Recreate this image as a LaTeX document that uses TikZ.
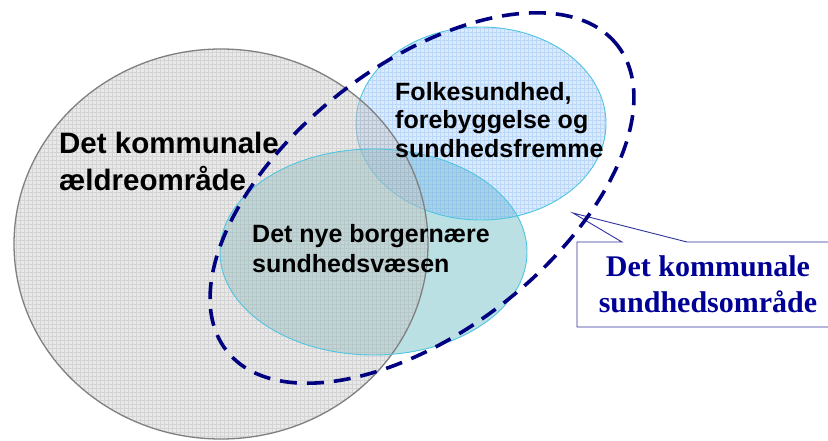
\documentclass[tikz,border=0pt]{standalone}
\usepackage{fontspec}
\setmainfont{Liberation Sans}
\newfontfamily\timesfont{Liberation Serif}
\definecolor{greenfill}{RGB}{186,224,227}
\definecolor{cyanline}{RGB}{80,196,225}
\definecolor{bluebase}{RGB}{116,176,244}
\definecolor{bluegrid}{RGB}{90,160,240}
\definecolor{greybase}{RGB}{200,200,200}
\definecolor{greygrid}{RGB}{165,165,165}
\definecolor{greyline}{RGB}{128,128,128}
\definecolor{navydash}{RGB}{0,0,128}
\definecolor{navytext}{RGB}{0,0,150}
\definecolor{navybox}{RGB}{50,50,160}
\tikzset{
  labeltext/.style={inner sep=0pt, anchor=base west, align=left, font=\bfseries},
  dashring/.style={draw=navydash, line width=3.6pt, dash pattern=on 17pt off 10pt},
  calloutbox/.style={fill=white, draw=navybox, line width=0.9pt, line join=miter},
}
\begin{document}
\begin{tikzpicture}[x=1pt,y=-1pt]
\useasboundingbox (0,0) rectangle (828,440);
\clip (0,0) rectangle (828,440);
\fill[white] (0,0) rectangle (828,440);

% centres of the three areas
\coordinate (gc) at (221,244);
\coordinate (nc) at (373.5,252);
\coordinate (fc) at (481,123.5);
\coordinate (dc) at (422,198);

% green: det nye borgernaere sundhedsvaesen
\fill[greenfill] (nc) ellipse [x radius=153.5pt, y radius=103pt];

% blue: folkesundhed
\begin{scope}
  \clip (fc) ellipse [x radius=125pt, y radius=96.5pt];
  \fill[bluebase, fill opacity=0.25] (fc) ellipse [x radius=125pt, y radius=96.5pt];
  \draw[bluegrid, draw opacity=0.25, line width=0.5pt, step=4pt] (340,240) grid (620,20);
\end{scope}
\draw[cyanline, line width=0.9pt] (fc) ellipse [x radius=125pt, y radius=96.5pt];

% grey: det kommunale aeldreomraade
\begin{scope}
  \clip (gc) ellipse [x radius=207pt, y radius=195pt];
  \fill[greybase, fill opacity=0.4] (gc) ellipse [x radius=207pt, y radius=195pt];
  \draw[greygrid, draw opacity=0.3, line width=0.5pt, step=4pt] (0,440) grid (440,40);
\end{scope}
\draw[greyline, line width=1.3pt] (gc) ellipse [x radius=207pt, y radius=195pt];
\draw[cyanline, line width=0.9pt] (nc) ellipse [x radius=153.5pt, y radius=103pt];

% texts (base anchor = baseline of the last line)
\node[labeltext, font=\bfseries\fontsize{29.5}{37}\selectfont] (aeldre) at (59,190) {Det kommunale\\ældreområde};
\node[labeltext, font=\bfseries\fontsize{25}{28.5}\selectfont] (folke) at (395,157) {Folkesundhed,\\forebyggelse og\\sundhedsfremme};
\node[labeltext, font=\bfseries\fontsize{25}{30}\selectfont] (nye) at (252,272) {Det nye borgernære\\sundhedsvæsen};

% callout
\coordinate (tip) at (573,213);
\path[calloutbox] (577,242) -- (622,242) -- (tip) -- (687,242) -- (845,242) -- (845,327) -- (577,327) -- cycle;
\node[inner sep=0pt, anchor=base, align=center, text=navytext, font=\timesfont\bfseries\fontsize{30}{36}\selectfont] (sund) at (708,312) {Det kommunale\\sundhedsområde};

% dashed boundary of the municipal health area
\draw[dashring, rotate around={38:(dc)}] (dc) ellipse [x radius=248pt, y radius=133pt];
\end{tikzpicture}
\end{document}
